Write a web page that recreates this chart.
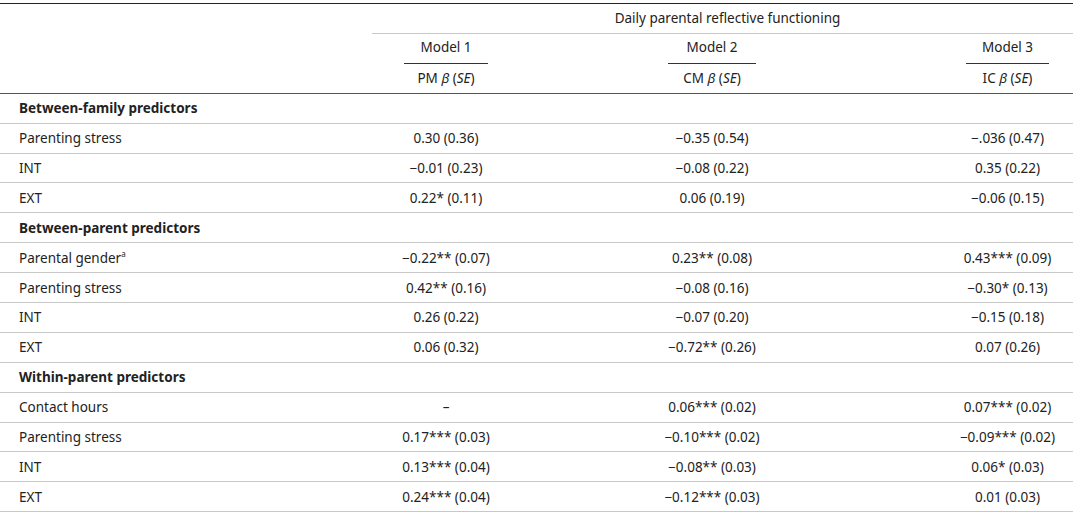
<!DOCTYPE html>
<html>
<head>
<meta charset="utf-8">
<script src="https://cdn.jsdelivr.net/npm/chart.js@4"></script>
<style>
body { margin: 0; background: #fff; font-family: "Noto Sans", "Open Sans", sans-serif; font-size: 13.5px; color: #222; }
table { border-collapse: collapse; width: 1073px; margin-top: 3px; table-layout: fixed; border-top: 1.5px solid #222; }
td { height: 28.9px; padding: 0; border-bottom: 1px solid #c8c8c8; white-space: nowrap; }
td.lab { padding-left: 19px; }
td.v { text-align: center; }
td.v3 { padding-left: 38px; }
tr.top td { border-bottom: none; }
tr.hdr td { border-bottom: 1px solid #555; }
tr.sec td { font-weight: bold; }
.ul { display: inline-block; border-bottom: 1.5px solid #333; padding: 0 0 7px; margin-top: 4px; }
.span-ul { border-bottom: 1px solid #c8c8c8 !important; }
</style>
</head>
<body>
<table id="tbl">
<colgroup><col style="width:372px"><col style="width:148px"><col style="width:384px"><col style="width:169px"></colgroup>
<thead>
<tr class="top"><td></td><td colspan="3" class="v span-ul" style="padding-left:10px">Daily parental reflective functioning</td></tr>
<tr class="top" id="modelRow"></tr>
<tr class="hdr" id="subRow"></tr>
</thead>
<tbody id="body"></tbody>
</table>
<script>
const models = ['Model 1', 'Model 2', 'Model 3'];
const estimates = ['PM', 'CM', 'IC'];
const sections = ['Between-family predictors', 'Between-parent predictors', 'Within-parent predictors'];
const predictors = [
  ['Parenting stress', 'INT', 'EXT'],
  ['Parental gender<sup style="font-size:8px">a</sup>', 'Parenting stress', 'INT', 'EXT'],
  ['Contact hours', 'Parenting stress', 'INT', 'EXT']
];
const model1 = [
  ['0.30 (0.36)', '−0.01 (0.23)', '0.22* (0.11)'],
  ['−0.22** (0.07)', '0.42** (0.16)', '0.26 (0.22)', '0.06 (0.32)'],
  ['–', '0.17*** (0.03)', '0.13*** (0.04)', '0.24*** (0.04)']
];
const model2 = [
  ['−0.35 (0.54)', '−0.08 (0.22)', '0.06 (0.19)'],
  ['0.23** (0.08)', '−0.08 (0.16)', '−0.07 (0.20)', '−0.72** (0.26)'],
  ['0.06*** (0.02)', '−0.10*** (0.02)', '−0.08** (0.03)', '−0.12*** (0.03)']
];
const model3 = [
  ['−.036 (0.47)', '0.35 (0.22)', '−0.06 (0.15)'],
  ['0.43*** (0.09)', '−0.30* (0.13)', '−0.15 (0.18)', '0.07 (0.26)'],
  ['0.07*** (0.02)', '−0.09*** (0.02)', '0.06* (0.03)', '0.01 (0.03)']
];

document.getElementById('modelRow').innerHTML = '<td></td>' +
  models.map((m, i) => `<td class="v${i === 2 ? ' v3' : ''}"><span class="ul" style="padding-left:${i===1?18:16}px;padding-right:${i===1?18:16}px">${m}</span></td>`).join('');
document.getElementById('subRow').innerHTML = '<td></td>' +
  estimates.map((e, i) => `<td class="v${i === 2 ? ' v3' : ''}">${e} <i>β</i> (<i>SE</i>)</td>`).join('');

let html = '';
sections.forEach((sec, s) => {
  html += `<tr class="sec"><td class="lab" colspan="4">${sec}</td></tr>`;
  predictors[s].forEach((p, r) => {
    html += `<tr><td class="lab">${p}</td><td class="v">${model1[s][r]}</td>` +
      `<td class="v">${model2[s][r]}</td><td class="v v3">${model3[s][r]}</td></tr>`;
  });
});
document.getElementById('body').innerHTML = html;
</script>
</body>
</html>
